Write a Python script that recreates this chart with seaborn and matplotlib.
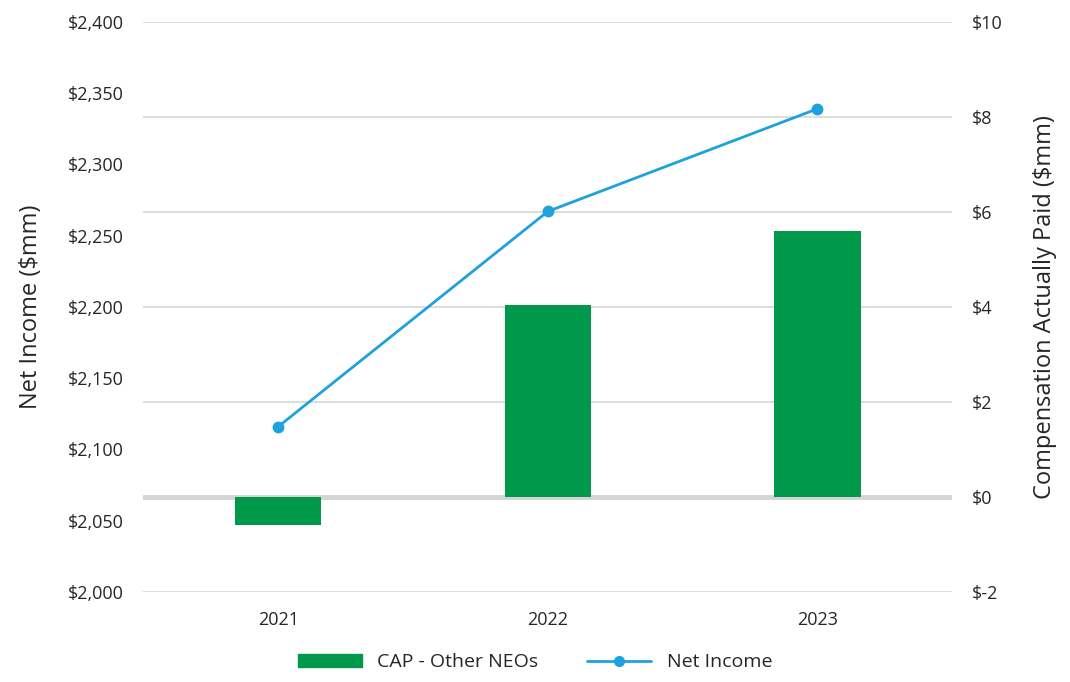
import matplotlib
matplotlib.use('Agg')
import matplotlib.pyplot as plt
import seaborn as sns
import pandas as pd
from matplotlib.patches import Patch
from matplotlib.lines import Line2D
from matplotlib.ticker import FuncFormatter

# data
years = ['2021', '2022', '2023']
net_income = [2116, 2267, 2339]   # $mm, left axis
cap_other = [-0.6, 4.05, 5.6]     # $mm, right axis

green = '#00984a'
blue = '#1ea2dd'
grid = '#dadada'

sns.set_style('white')
plt.rcParams['font.family'] = ['Open Sans', 'DejaVu Sans']

df = pd.DataFrame({'year': years, 'net_income': net_income, 'cap': cap_other})

fig = plt.figure(figsize=(10.7, 6.82), dpi=100)
ax1 = fig.add_axes([0.134, 0.132, 0.756, 0.836])
ax2 = ax1.twinx()

# bars on the right axis
sns.barplot(data=df, x='year', y='cap', color=green, width=0.32,
            saturation=1, linewidth=0, ax=ax2, zorder=2)
ax2.set_ylim(-2, 10)
ax2.set_yticks(range(-2, 11, 2))
ax2.yaxis.set_major_formatter(FuncFormatter(lambda v, p: f'${v:.0f}'))
ax2.grid(axis='y', color=grid, linewidth=1.3, zorder=0)
ax2.axhline(0, color='#d4d4d4', linewidth=3.5, zorder=1)
ax2.set_ylabel('Compensation Actually Paid ($mm)', fontsize=17, labelpad=22)

# line on the left axis
sns.pointplot(data=df, x='year', y='net_income', color=blue, markers='o',
              linewidth=2, markersize=7, ax=ax1)
ax1.set_ylim(2000, 2400)
ax1.set_yticks(range(2000, 2401, 50))
ax1.yaxis.set_major_formatter(FuncFormatter(lambda v, p: f'${v:,.0f}'))
ax1.set_ylabel('Net Income ($mm)', fontsize=17, labelpad=18)
ax1.set_xlabel('')
ax2.set_xlabel('')
ax1.set_xlim(-0.5, 2.5)

ax1.set_zorder(ax2.get_zorder() + 1)
ax1.patch.set_visible(False)

for ax in (ax1, ax2):
    for s in ax.spines.values():
        s.set_visible(False)
    ax.tick_params(length=0, labelsize=13)
ax1.tick_params(axis='y', pad=14)
ax2.tick_params(axis='y', pad=14)
ax1.tick_params(axis='x', pad=14)

handles = [Patch(color=green, label='CAP - Other NEOs'),
           Line2D([], [], color=blue, marker='o', markersize=7, linewidth=2,
                  label='Net Income')]
fig.legend(handles=handles, loc='lower center', ncol=2, frameon=False,
           fontsize=14, bbox_to_anchor=(0.5, -0.01), handlelength=3.3,
           handleheight=0.6, columnspacing=2.5)

fig.savefig('out.png', dpi=100)
